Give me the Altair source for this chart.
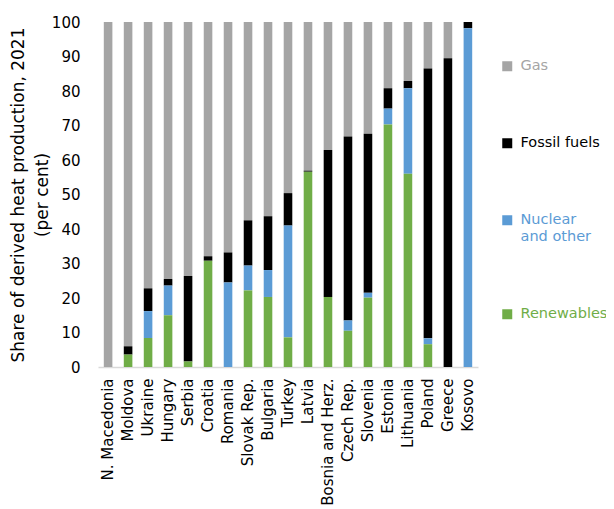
import altair as alt
import pandas as pd

countries = ["N. Macedonia", "Moldova", "Ukraine", "Hungary", "Serbia", "Croatia",
             "Romania", "Slovak Rep.", "Bulgaria", "Turkey", "Latvia", "Bosnia and Herz.",
             "Czech Rep.", "Slovenia", "Estonia", "Lithuania", "Poland", "Greece", "Kosovo"]
renewables = [0, 3.6, 8.4, 15.0, 1.6, 30.8, 0, 22.2, 20.3, 8.6, 56.6, 20.3, 10.5, 20.1, 70.3, 56.0, 6.6, 0, 0]
nuclear = [0, 0, 7.8, 8.6, 0, 0, 24.5, 7.2, 7.8, 32.4, 0, 0, 3.0, 1.4, 4.6, 24.8, 1.7, 0, 98.2]
fossil = [0, 2.4, 6.6, 1.9, 24.8, 1.3, 8.7, 13.1, 15.6, 9.4, 0.3, 42.6, 53.3, 46.1, 5.9, 2.1, 78.2, 89.5, 1.8]
gas = [100, 94.0, 77.2, 74.5, 73.6, 67.9, 66.8, 57.5, 56.3, 49.6, 43.1, 37.1, 33.2, 32.4, 19.2, 17.1, 13.5, 10.5, 0]

series_names = ["Gas", "Fossil fuels", "Nuclear and other", "Renewables"]
series_colors = ["#A5A5A5", "#000000", "#5B9BD5", "#70AD47"]
series_values = [gas, fossil, nuclear, renewables]
stack_order = [4, 3, 2, 1]

rows = []
for name, vals, o in zip(series_names, series_values, stack_order):
    for c, v in zip(countries, vals):
        rows.append({"country": c, "source": name, "value": v, "ord": o})
df = pd.DataFrame(rows)

label_color_expr = ("datum.label == 'Gas' ? '#A5A5A5' : datum.label == 'Fossil fuels' ? '#000000' : "
                    "datum.label == 'Renewables' ? '#70AD47' : '#5B9BD5'")

FONT = "DejaVu Sans"

chart = alt.Chart(df).mark_bar().encode(
    x=alt.X("country:N", sort=countries,
            scale=alt.Scale(paddingInner=0.57, paddingOuter=0.29),
            axis=alt.Axis(title=None, labelAngle=-90, labelAlign="right", labelBaseline="middle",
                          labelPadding=11, ticks=False, domainColor="#D9D9D9", domainWidth=1.5,
                          labelFontSize=15, labelColor="#000000", labelFont=FONT)),
    y=alt.Y("value:Q", stack="zero",
            scale=alt.Scale(domain=[0, 100], nice=False),
            axis=alt.Axis(title=["Share of derived heat production, 2021", "(per cent)"],
                          values=list(range(0, 101, 10)), grid=False, domain=False, ticks=False,
                          labelPadding=18, labelFontSize=15, labelColor="#000000", labelFont=FONT,
                          titleFontSize=17, titleFont=FONT, titleFontWeight="normal",
                          titleColor="#000000", titleLineHeight=24, titlePadding=0)),
    color=alt.Color("source:N",
                    scale=alt.Scale(domain=series_names, range=series_colors),
                    legend=alt.Legend(title=None, orient="none", legendX=402, legendY=37,
                                      symbolType="square", symbolSize=100, symbolStrokeWidth=0,
                                      labelFontSize=14.5, labelFont=FONT, labelLimit=200,
                                      labelColor=alt.ExprRef(label_color_expr),
                                      labelExpr="datum.label == 'Nuclear and other' ? ['Nuclear', 'and other'] : datum.label",
                                      rowPadding=62, labelOffset=6)),
    order=alt.Order("ord:Q", sort="ascending"),
).properties(
    width=380, height=345,
    autosize=alt.AutoSizeParams(type="none"),
    padding={"left": 90, "top": 14, "right": 128, "bottom": 140},
).configure_view(stroke=None)

chart.save("out.html", embed_options={"renderer": "svg", "actions": False})
